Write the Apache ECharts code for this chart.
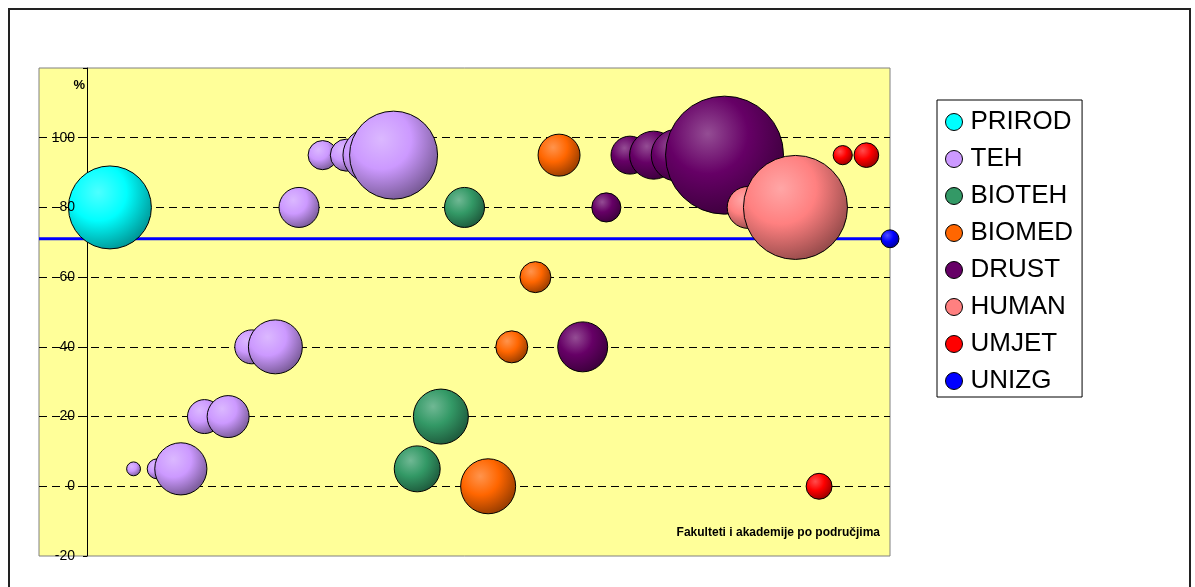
<!DOCTYPE html>
<html>
<head>
<meta charset="utf-8">
<title>Fakulteti i akademije po područjima</title>
<script src="https://cdn.jsdelivr.net/npm/echarts@6/dist/echarts.min.js"></script>
<style>
    html, body { margin: 0; padding: 0; background: #fff; }
    #chart-container { width: 1195px; height: 587px; }
</style>
</head>
<body>
<div id="chart-container"></div>
<script>
// legend order / series names
const categories = ['PRIROD', 'TEH', 'BIOTEH', 'BIOMED', 'DRUST', 'HUMAN', 'UMJET', 'UNIZG'];

// x = position of the faculty along the axis, y = %, n = bubble value
const xPrirod = [1];
const yPrirod = [80];
const nPrirod = [430];

const xTeh = [2, 3, 4, 5, 6, 7, 8, 9, 10, 11, 12, 13];
const yTeh = [5, 5, 5, 20, 20, 40, 40, 80, 95, 95, 95, 95];
const nTeh = [12, 25, 170, 72, 110, 72, 182, 100, 53, 64, 182, 484];

const xBioteh = [14, 15, 16];
const yBioteh = [5, 20, 80];
const nBioteh = [132, 189, 100];

const xBiomed = [17, 18, 19, 20];
const yBiomed = [0, 40, 60, 95];
const nBiomed = [189, 64, 60, 110];

const xDrust = [21, 22, 23, 24, 25, 27];
const yDrust = [40, 80, 95, 95, 95, 95];
const nDrust = [156, 53, 90, 144, 169, 870];

const xHuman = [28, 30];
const yHuman = [80, 80];
const nHuman = [110, 676];

const xUmjet = [31, 32, 33];
const yUmjet = [0, 95, 95];
const nUmjet = [42, 23, 38];

const xUnizg = [34];
const yUnizg = [71];
const nUnizg = [20];

// axis ranges / ticks
const xRange = [-2, 34];
const yTicks = [-20, 0, 20, 40, 60, 80, 100, 120];

const palette = {
    PRIROD: '#00FFFF',
    TEH: '#CC99FF',
    BIOTEH: '#339966',
    BIOMED: '#FF6600',
    DRUST: '#660066',
    HUMAN: '#FF8080',
    UMJET: '#FF0000',
    UNIZG: '#0000FF'
};

const FONT = 'Arial, "Liberation Sans", sans-serif';

function mix(hex, other, t) {
    const a = parseInt(hex.slice(1), 16), b = parseInt(other.slice(1), 16);
    const ch = (v, s) => (v >> s) & 255;
    const m = s => Math.round(ch(a, s) * (1 - t) + ch(b, s) * t);
    return 'rgb(' + m(16) + ',' + m(8) + ',' + m(0) + ')';
}

function bubbleFill(hex) {
    return {
        type: 'radial', x: 0.36, y: 0.32, r: 0.75,
        colorStops: [
            {offset: 0, color: mix(hex, '#FFFFFF', 0.3)},
            {offset: 0.45, color: hex},
            {offset: 1, color: mix(hex, '#000000', 0.45)}
        ]
    };
}

function points(xs, ys, ns) {
    return xs.map((x, i) => [x, ys[i], ns[i]]);
}

const seriesData = {
    PRIROD: points(xPrirod, yPrirod, nPrirod),
    TEH: points(xTeh, yTeh, nTeh),
    BIOTEH: points(xBioteh, yBioteh, nBioteh),
    BIOMED: points(xBiomed, yBiomed, nBiomed),
    DRUST: points(xDrust, yDrust, nDrust),
    HUMAN: points(xHuman, yHuman, nHuman),
    UMJET: points(xUmjet, yUmjet, nUmjet),
    UNIZG: points(xUnizg, yUnizg, nUnizg)
};

const series = categories.map(name => ({
    name: name,
    type: 'scatter',
    data: seriesData[name],
    yAxisIndex: 0,
    symbolSize: function (val) {
        return 4 * Math.sqrt(val[2]);
    },
    itemStyle: {
        color: bubbleFill(palette[name]),
        borderColor: '#000',
        borderWidth: 1,
        opacity: 1
    },
    emphasis: {disabled: true},
    z: 3
}));

// UNIZG average as a horizontal line, behind the bubbles
series.push({
    name: 'UNIZG',
    type: 'line',
    data: xRange.map(x => [x, yUnizg[0]]),
    symbol: 'none',
    silent: true,
    lineStyle: {color: palette.UNIZG, width: 3},
    z: 1
});

const chartDom = document.getElementById('chart-container');
const myChart = echarts.init(chartDom, null, {renderer: 'canvas'});

const yBase = {
    type: 'value',
    position: 'left',
    min: yTicks[0],
    max: yTicks[yTicks.length - 1],
    interval: 20,
    offset: -48
};

var option;

option = {
    animation: false,
    backgroundColor: '#fff',
    graphic: [{
        type: 'rect',
        shape: {x: 9, y: 9, width: 1181, height: 600},
        style: {fill: 'none', stroke: '#222', lineWidth: 2},
        silent: true,
        z: 0
    }],
    legend: {
        orient: 'vertical',
        left: 937,
        top: 100,
        backgroundColor: '#fff',
        borderColor: '#000',
        borderWidth: 1,
        padding: [9, 9, 3, 8],
        itemGap: 11,
        itemWidth: 17,
        itemHeight: 17,
        icon: 'circle',
        textStyle: {
            fontFamily: FONT,
            fontSize: 26,
            lineHeight: 26,
            color: '#000',
            padding: [0, 0, 0, 3]
        },
        data: categories.map(name => ({
            name: name,
            icon: 'circle',
            itemStyle: {color: palette[name], borderColor: '#000', borderWidth: 1}
        }))
    },
    grid: {
        left: 39,
        top: 68,
        right: 305,
        bottom: 31,
        show: true,
        backgroundColor: '#FFFF99',
        borderColor: '#808080',
        borderWidth: 1
    },
    xAxis: {
        type: 'value',
        min: xRange[0],
        max: xRange[1],
        name: 'Fakulteti i akademije po područjima',
        nameLocation: 'end',
        nameGap: -10,
        nameTextStyle: {
            fontFamily: FONT,
            fontSize: 12,
            fontWeight: 'bold',
            color: '#000',
            align: 'right',
            verticalAlign: 'bottom',
            padding: [0, 0, 17, 0]
        },
        axisLine: {show: false, onZero: false},
        axisTick: {show: false},
        axisLabel: {show: false},
        splitLine: {show: false}
    },
    yAxis: [
        // axis line, ticks and gridlines (behind the bubbles)
        Object.assign({}, yBase, {
            name: '%',
            nameLocation: 'end',
            nameGap: -24,
            nameTextStyle: {
                fontFamily: FONT,
                fontSize: 13,
                fontWeight: 'bold',
                color: '#000',
                align: 'right',
                verticalAlign: 'bottom',
                padding: [0, 2, 0, 0]
            },
            axisLine: {show: true, onZero: false, lineStyle: {color: '#000', width: 1}},
            axisTick: {show: true, length: 4, lineStyle: {color: '#000'}},
            axisLabel: {show: false},
            splitLine: {
                show: true,
                showMinLine: false,
                showMaxLine: false,
                lineStyle: {color: '#000', width: 1, type: [8, 5]}
            }
        }),
        // tick labels drawn over the bubbles
        Object.assign({}, yBase, {
            z: 10,
            axisLine: {show: false, onZero: false},
            axisTick: {show: false},
            splitLine: {show: false},
            axisLabel: {
                margin: 12,
                fontFamily: FONT,
                fontSize: 14,
                color: '#000',
                formatter: function (v) {
                    return v === yTicks[yTicks.length - 1] ? '' : String(v);
                }
            }
        })
    ],
    series: series
};

option && myChart.setOption(option, true);
</script>
</body>
</html>
